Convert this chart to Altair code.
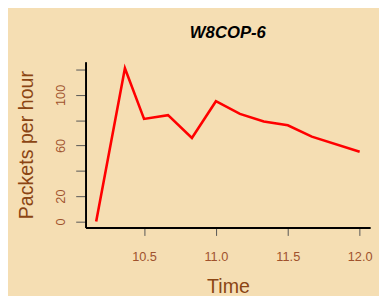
import altair as alt
import pandas as pd

times = [10.167, 10.367, 10.5, 10.667, 10.833, 11.0, 11.167, 11.333, 11.5, 11.667, 12.0]
packets = [0, 121, 81, 84, 66, 95, 85, 79, 76, 67, 55]
x_ticks = [10.5, 11.0, 11.5, 12.0]
y_ticks = [0, 20, 40, 60, 80, 100, 120]

df = pd.DataFrame({"Time": times, "Packets": packets})

FONT = "Liberation Sans"
LABEL_COLOR = "#A0522D"
TITLE_COLOR = "#8B4513"

chart = alt.Chart(df).mark_line(color="#FF0000", strokeWidth=2.6).encode(
    x=alt.X("Time:Q",
            scale=alt.Scale(domain=[10.093, 12.073], nice=False, zero=False),
            axis=alt.Axis(values=x_ticks, format=".1f", title="Time", grid=False,
                          domainColor="black", domainWidth=2,
                          tickColor="#555555", tickSize=8, tickWidth=1,
                          labelFont=FONT, labelFontSize=13, labelColor=LABEL_COLOR,
                          labelPadding=16,
                          titleFont=FONT, titleFontSize=20, titleFontWeight="normal",
                          titleColor=TITLE_COLOR, titleBaseline="alphabetic",
                          titleY=66, titleX=145.2)),
    y=alt.Y("Packets:Q",
            scale=alt.Scale(domain=[-4.85, 126.2], nice=False, zero=False),
            axis=alt.Axis(values=y_ticks, title="Packets per hour", grid=False,
                          labelExpr="(datum.value == 40 || datum.value == 80 || datum.value == 120) ? '' : datum.label",
                          domainColor="black", domainWidth=2,
                          tickColor="#555555", tickSize=10, tickWidth=1,
                          labelFont=FONT, labelFontSize=13, labelColor=LABEL_COLOR,
                          labelAngle=270, labelAlign="center", labelBaseline="bottom",
                          labelPadding=8,
                          titleFont=FONT, titleFontSize=20, titleFontWeight="normal",
                          titleColor=TITLE_COLOR, titleAngle=270, titleBaseline="alphabetic",
                          titleX=-54, titleY=84.5)),
).properties(
    width=290,
    height=169,
    title=alt.Title("W8COP-6", font=FONT, fontSize=17, fontWeight="bold",
                    fontStyle="italic", color="black", anchor="middle", offset=20),
    background="#F5DEB3",
    autosize=alt.AutoSizeParams(type="none"),
    padding={"left": 79, "top": 52, "right": 9, "bottom": 67},
).configure_view(stroke=None)

chart.save("out.html", embed_options={"renderer": "svg", "actions": False})
